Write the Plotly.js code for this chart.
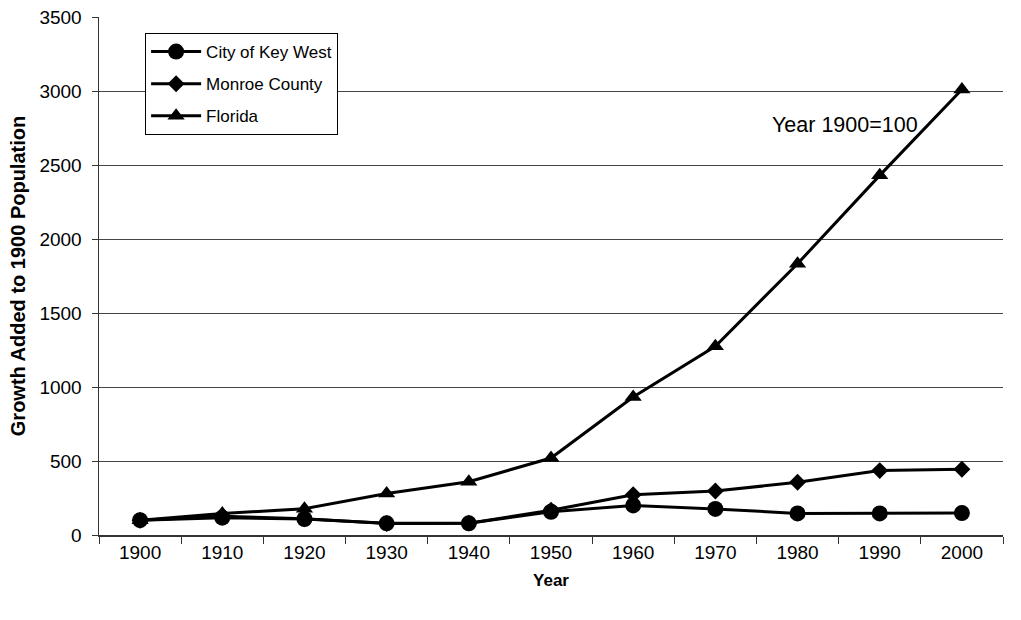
<!DOCTYPE html>
<html>
<head>
<meta charset="utf-8">
<script src="https://cdn.plot.ly/plotly-3.0.1.min.js"></script>
<style>html,body{margin:0;padding:0;background:#fff;}#chart{width:1021px;height:620px;}</style>
</head>
<body>
<div id="chart"></div>
<script>
const years = ['1900','1910','1920','1930','1940','1950','1960','1970','1980','1990','2000'];
const keyWest = [100, 117, 108, 79, 79, 157, 200, 176, 146, 146, 148];
const monroe = [100, 127, 110, 78, 80, 167, 272, 297, 356, 435, 444];
const florida = [100, 145, 178, 280, 360, 520, 932, 1275, 1833, 2430, 3010];
const yTicks = [0, 500, 1000, 1500, 2000, 2500, 3000, 3500];

const font = 'Liberation Sans, Arial, sans-serif';
const mk = (name, y, symbol, size) => ({
  type: 'scatter', mode: 'lines+markers', name: name, x: years, y: y,
  legendgroup: name,
  line: {color: '#000', width: 3},
  marker: {symbol: symbol, size: size, color: '#000'}
});
const data = [
  mk('City of Key West', keyWest, 'circle', 16),
  mk('Monroe County', monroe, 'diamond', 13),
  mk('Florida', florida, 'triangle-up', 15)
];
const layout = {
  width: 1021, height: 620,
  margin: {l: 99, r: 18, t: 17, b: 85},
  paper_bgcolor: '#fff', plot_bgcolor: '#fff',
  font: {family: font, size: 19, color: '#000'},
  showlegend: true,
  legend: {x: 0.051, y: 0.969, xanchor: 'left', yanchor: 'top',
    bgcolor: '#fff', bordercolor: '#000', borderwidth: 1,
    font: {family: font, size: 17, color: '#000'}, itemwidth: 50,
    traceorder: 'grouped', tracegroupgap: 7},
  xaxis: {type: 'category', range: [-0.5, 10.5], tickson: 'boundaries', ticks: 'outside', ticklen: 7,
    tickcolor: '#333', showline: true, linecolor: '#333', linewidth: 1.5,
    showgrid: false, zeroline: false, tickfont: {family: font, size: 19},
    title: {text: 'Year', font: {family: font, size: 17, weight: 'bold'}, standoff: 12}},
  yaxis: {range: [0, 3500], tickvals: yTicks, ticks: 'outside', ticklen: 6,
    ticklabelstandoff: 6,
    tickcolor: '#333', showline: true, linecolor: '#333', linewidth: 1.5,
    showgrid: true, gridcolor: '#444', gridwidth: 1, zeroline: false,
    tickfont: {family: font, size: 19},
    title: {text: 'Growth Added to 1900 Population', font: {family: font, size: 20, weight: 'bold'}, standoff: 8}},
  annotations: [{xref: 'paper', yref: 'paper', x: (845-99)/904, y: (535-125)/518,
    xanchor: 'center', yanchor: 'middle',
    text: 'Year 1900=100', showarrow: false, font: {family: font, size: 21.5, color: '#000'}}]
};
Plotly.newPlot('chart', data, layout, {displayModeBar: false, staticPlot: true});
</script>
</body>
</html>
